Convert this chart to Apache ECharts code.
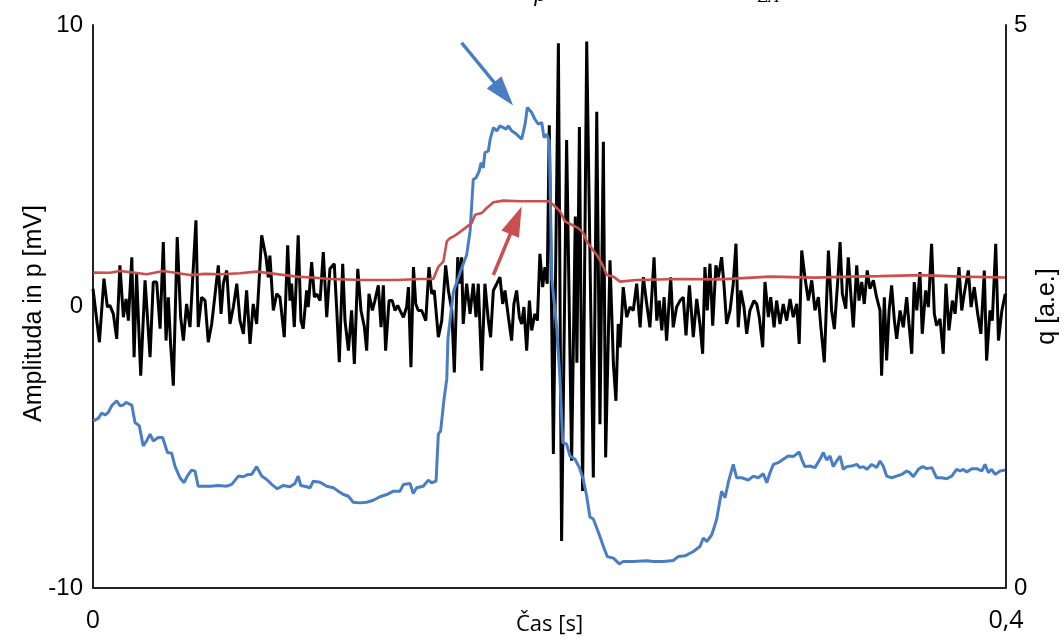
<!DOCTYPE html>
<html><head><meta charset="utf-8">
<script src="https://cdn.jsdelivr.net/npm/echarts@6/dist/echarts.min.js"></script>
<style>html,body{margin:0;padding:0;background:#fff}#c{width:1064px;height:641px}</style>
</head><body><div id="c"></div>
<script>
// time in ms, black signal p [mV] (left axis)
const blackT = [0,2.8,4.8,6.3,7.4,8.9,10.4,11.8,13.3,14.5,15.5,17.0,18.0,19.1,20.9,22.8,25.0,26.4,27.9,29.4,30.8,32.0,33.0,34.0,35.2,36.9,38.4,39.6,41.0,42.5,45.1,46.1,47.6,49.1,50.5,52.0,53.5,54.9,56.1,57.1,58.6,60.0,61.5,63.0,64.4,65.9,67.3,68.8,70.2,71.7,73.9,75.8,76.8,77.5,79.0,80.5,
81.9,83.8,85.3,86.3,87.0,88.2,89.9,91.1,92.1,93.6,94.3,95.8,97.0,98.0,99.5,100.9,102.4,103.8,105.7,106.8,107.9,109.4,110.4,111.9,113.3,114.5,116.0,117.4,118.9,119.9,120.9,122.4,123.5,125.0,126.2,127.2,128.2,129.7,131.1,132.3,133.5,134.5,136.0,137.4,138.2,139.3,140.4,141.4,142.5,144.0,145.8,147.2,148.4,149.5,151.3,152.8,154.5,155.7,157.2,158.3,159.8,160.8,
161.5,162.2,163.7,165.2,166.6,167.8,168.8,170.3,171.7,173.2,174.2,175.4,176.9,178.3,179.5,180.5,182.0,183.4,184.4,185.6,186.8,187.8,188.8,190.0,191.2,192.2,193.6,194.7,195.8,197.0,198.0,199.0,199.9,201.7,203.9,205.3,207.5,209.7,211.3,212.0,213.1,214.5,216.3,219.2,220.7,222.1,223.6,224.6,226.5,228.0,229.1,230.1,230.9,232.3,233.8,235.3,236.7,238.2,
239.7,241.1,242.6,244.0,245.8,247.0,248.1,249.2,250.2,251.3,253.1,254.2,255.7,257.2,258.6,259.8,261.3,263.0,264.5,265.9,267.1,268.1,269.1,270.3,271.5,272.9,274.0,275.4,276.4,277.6,279.1,280.5,281.7,282.7,283.8,285.2,286.4,287.8,289.6,290.8,291.9,293.4,294.4,295.9,296.9,298.4,299.5,301.0,302.4,303.9,305.4,306.8,308.3,309.4,310.5,311.9,313.4,314.9,316.3,
317.8,318.9,320.4,322.2,323.6,324.8,326.3,327.3,328.3,329.8,330.9,332.1,333.1,334.6,335.6,336.8,337.9,339.2,340.4,341.9,343.3,344.8,345.5,346.7,347.7,348.8,349.9,351.1,352.1,353.6,355.0,356.5,357.5,358.7,359.8,360.9,362.3,363.3,364.8,366.0,367.4,368.6,369.6,371.1,372.5,373.7,375.0,376.5,377.7,379.4,380.6,381.7,383.5,384.7,386.1,387.6,389.0,390.5,391.5,393.0,394.0,395.5,396.7,398.2,399.7];
const blackV = [0.63,-1.27,0.99,-0.02,0.04,-0.26,-1.15,1.46,-0.38,0.27,-0.5,1.75,-1.80,1.16,-2.46,0.93,-1.80,0.87,0.87,-0.79,2.29,-1.21,0.33,-1.33,-2.81,2.47,-0.38,-1.21,0.09,-0.73,3.06,-0.73,0.33,0.21,-1.27,-0.62,0.45,1.46,-0.26,0.81,1.28,-0.62,-0.02,0.81,-0.50,-0.97,0.57,-1.33,0.09,-0.62,2.53,1.75,1.04,1.81,-0.14,0.45,
0.33,-1.09,2.17,0.21,0.81,-0.73,2.53,-0.5,-0.79,0.57,-0.02,1.58,0.33,0.45,0.21,1.93,-0.38,1.34,1.52,-0.14,-1.98,1.52,-0.5,-1.57,-0.14,-2.04,1.34,-0.14,-0.73,-1.57,0.45,-0.14,0.21,0.75,-0.73,0.75,-1.57,0.21,0.21,-0.14,0.04,-0.14,-0.38,-0.02,0.69,-2.16,1.40,0.09,-0.14,-0.14,-0.5,1.40,0.45,0.57,-1.09,-0.5,1.46,0.57,-0.14,-2.34,1.75,0.81,
1.75,-0.62,0.81,-0.26,0.81,-0.38,0.81,-2.28,0.81,-0.5,-1.09,0.57,0.81,1.04,0.09,0.57,-0.38,-1.21,0.09,0.57,-0.38,-0.62,-0.02,-1.57,0.21,-0.85,-0.26,-0.5,1.87,0.69,1.40,0.81,6.44,-5.24,9.35,-8.33,5.91,-5.48,3.2,-2.0,6.38,-6.55,9.41,-6.07,6.92,-4.18,5.85,-5.36,1.64,-2.04,-3.35,-0.62,-1.45,0.69,-0.38,-0.02,-0.14,0.81,
-0.74,1.04,0.09,-0.74,1.75,-0.5,0.21,-0.85,0.33,-1.21,1.04,-0.74,-0.02,0.21,0.33,-1.03,0.75,-1.09,0.27,-0.62,-1.68,1.40,-0.14,1.52,-0.68,1.46,1.04,1.75,0.81,-0.62,-0.14,0.81,2.23,-0.74,0.57,-0.02,-0.97,-0.14,0.21,0.09,-0.38,-1.45,0.87,-0.38,0.33,-0.74,0.21,-0.62,0.09,-0.5,0.27,-0.38,0.09,-1.33,1.99,1.04,0.21,0.93,-0.14,
0.33,-0.74,-1.98,1.99,-0.14,-0.8,0.93,2.29,0.45,-0.08,1.75,0.33,-0.74,1.46,0.21,0.87,0.09,1.28,0.63,0.93,0.33,-0.14,-2.46,0.33,-1.92,-0.14,0.75,-0.5,-1.15,-0.14,-0.74,0.33,-0.62,-1.68,0.87,-0.14,1.22,-0.97,0.57,-0.02,2.23,-0.26,-0.68,-0.44,-1.68,0.81,-0.85,0.21,-0.26,1.40,-0.14,0.45,1.28,-0.02,0.69,-0.26,-0.97,1.28,-1.92,-0.14,-0.5,2.23,-1.21,-0.14,0.45];

// blue signal, q (right axis)
const blueT = [0.1,2.3,3.8,5.3,6.7,8.2,10.4,11.8,13.3,14.5,15.9,17.0,18.4,20.3,22.0,23.5,25.0,26.4,28.6,30.5,32.6,34.5,35.9,38.1,39.9,41.3,43.2,44.7,46.1,51.3,54.9,58.6,60.8,63.7,65.8,68.0,69.5,71.7,73.9,76.1,78.3,80.7,83.4,86.3,88.5,89.9,91.0,93.6,95.1,96.5,99.5,102.4,105.3,107.5,109.7,111.9,114.0,117.0,119.9,122.8,125.7,128.7,131.6,134.5,136.0,138.9,140.3,141.8,144.7,146.9,148.4,150.3,151.3,152.3,153.8,155.0,155.5,157.9,161.5,163.7,165.2,166.6,167.8,169.2,170.0,171.0,171.7,173.2,174.0,175.4,176.9,178.3,179.8,180.9,182.0,183.4,185.6,187.8,189.3,190.3,192.2,193.6,195.1,196.6,197.6,198.8,199.9,201.0,203.2,204.6,205.8,207.5,209.0,211.2,213.1,214.8,216.3,217.7,219.2,220.7,222.1,223.6,225.3,228.0,230.6,232.3,236.7,242.6,245.5,249.9,254.2,256.4,259.4,263.0,265.9,267.4,268.9,271.1,273.2,275.4,276.9,278.3,280.5,282.0,284.2,287.1,289.3,291.5,293.7,295.2,296.6,298.1,300.2,302.4,304.6,306.8,309.4,310.5,311.9,314.1,316.3,318.5,320.0,321.4,322.9,324.3,325.8,327.3,328.7,330.2,332.4,334.6,336.0,337.5,339.0,341.2,343.3,344.8,346.2,347.7,349.9,352.1,354.3,356.5,357.9,359.4,361.6,363.5,365.3,367.5,369.6,371.8,374.0,376.2,378.4,379.9,381.3,382.8,385.0,387.2,389.4,390.8,392.3,393.7,395.2,397.4,399.6];
const blueQ = [1.485,1.506,1.554,1.536,1.560,1.619,1.663,1.619,1.625,1.649,1.634,1.625,1.470,1.440,1.262,1.306,1.366,1.306,1.337,1.337,1.203,1.196,1.083,0.979,0.935,0.994,1.047,1.038,0.904,0.904,0.911,0.904,0.920,0.994,0.988,1.009,1.009,1.078,0.994,0.964,0.920,0.881,0.911,0.899,0.929,0.994,0.911,0.899,0.890,0.949,0.940,0.904,0.890,0.860,0.830,0.815,0.762,0.756,0.762,0.779,0.810,0.830,0.860,0.860,0.920,0.929,0.839,0.890,0.904,0.958,0.935,0.949,1.366,1.396,1.679,1.857,2.214,2.631,2.839,2.958,3.167,3.628,3.643,3.703,3.777,3.732,3.866,3.881,3.985,4.089,4.060,4.104,4.089,4.074,4.104,4.060,4.029,3.985,4.119,4.268,4.223,4.163,4.119,4.134,4.000,4.029,3.971,2.750,2.304,1.857,1.292,1.277,1.172,1.143,1.069,0.964,0.815,0.631,0.613,0.533,0.458,0.369,0.279,0.265,0.214,0.235,0.235,0.241,0.235,0.235,0.244,0.279,0.286,0.324,0.369,0.444,0.413,0.473,0.607,0.860,0.801,0.935,1.098,0.979,0.979,0.958,0.994,0.979,1.015,0.935,1.024,1.098,1.113,1.143,1.172,1.167,1.208,1.143,1.078,1.083,1.069,1.143,1.203,1.137,1.172,1.078,1.128,1.172,1.054,1.078,1.083,1.098,1.069,1.078,1.054,1.098,1.069,1.128,1.083,0.994,0.979,0.994,1.009,1.039,1.024,0.988,1.054,1.078,1.060,1.069,0.979,0.979,0.970,0.994,1.054,1.039,1.054,1.030,1.060,1.060,1.039,1.098,1.024,1.054,1.009,1.039,1.047];

// red signal, q (right axis)
const redT = [0.1,7.4,11.8,18.4,23.5,30.8,35.9,42.5,49.1,55.6,64.4,71.7,79.7,89.2,97.3,103.8,118.4,133.1,143.3,149.1,151.3,153.5,155.0,156.4,157.9,160.1,163.0,165.9,167.4,170.3,172.5,175.4,179.8,187.1,199.5,201.7,204.6,206.8,209.7,212.6,214.8,216.3,218.5,220.7,222.9,225.1,228.0,230.9,238.2,257.2,274.7,296.6,316.3,331.7,344.8,363.1,379.8,399.6];
const redQ = [2.801,2.80,2.815,2.80,2.786,2.815,2.80,2.779,2.79,2.786,2.795,2.810,2.79,2.765,2.755,2.744,2.735,2.735,2.744,2.744,2.854,2.899,3.078,3.107,3.122,3.152,3.196,3.241,3.315,3.330,3.375,3.426,3.440,3.435,3.435,3.404,3.346,3.256,3.226,3.196,3.152,3.078,3.018,2.958,2.884,2.779,2.765,2.721,2.735,2.744,2.741,2.765,2.756,2.765,2.77,2.779,2.765,2.758];

// annotation arrows (start / end in data units: ms, mV)
const blueArrow = [[161.5, 9.37], [179.9, 7.55]];
const redArrow = [[175.4, 1.12], [185.3, 3.06]];

const xTickLabels = ['0', '0,4'];

const zip = (a, b) => a.map((t, i) => [t, b[i]]);
const FONT = 'Liberation Sans, Arial, sans-serif';
const XFONT = 'Open Sans, Liberation Sans, sans-serif';
const chart = echarts.init(document.getElementById('c'), null, {renderer: 'canvas'});
chart.setOption({
  animation: false,
  backgroundColor: '#fff',
  grid: {left: 93, right: 58, top: 25, bottom: 53, containLabel: false, outerBoundsMode: 'none'},
  xAxis: {
    type: 'value', min: 0, max: 400, interval: 400,
    name: 'Čas [s]', nameLocation: 'middle', nameGap: 26, nameMoveOverlap: false,
    nameTextStyle: {fontSize: 22, color: '#000', fontFamily: XFONT},
    axisLine: {show: true, onZero: false, lineStyle: {color: '#222', width: 2}},
    axisTick: {show: false}, splitLine: {show: false},
    axisLabel: {margin: 20, fontSize: 25, color: '#000', fontFamily: XFONT,
      formatter: v => v === 0 ? xTickLabels[0] : xTickLabels[1]}
  },
  yAxis: [{
    type: 'value', min: -10, max: 10, interval: 10, position: 'left',
    name: 'Amplituda in p [mV]', nameLocation: 'middle', nameGap: 46, nameRotate: 90, nameMoveOverlap: false,
    nameTextStyle: {fontSize: 25, color: '#000', fontFamily: FONT, padding: [0, 14, 0, 0]},
    axisLine: {show: true, onZero: false, lineStyle: {color: '#222', width: 2}},
    axisTick: {show: false}, splitLine: {show: false},
    axisLabel: {margin: 10, fontSize: 24, color: '#000', fontFamily: FONT}
  }, {
    type: 'value', min: 0, max: 5, interval: 5, position: 'right',
    name: 'q [a.e.]', nameLocation: 'middle', nameGap: 29, nameRotate: 90, nameMoveOverlap: false,
    nameTextStyle: {fontSize: 25, color: '#000', fontFamily: FONT},
    axisLine: {show: true, onZero: false, lineStyle: {color: '#222', width: 2}},
    axisTick: {show: false}, splitLine: {show: false},
    axisLabel: {margin: 8, fontSize: 24, color: '#000', fontFamily: FONT}
  }],
  series: [{
    type: 'line', yAxisIndex: 0, data: zip(blackT, blackV), showSymbol: false,
    lineStyle: {color: '#000', width: 3}, z: 2,
    markLine: {
      silent: true, animation: false, symbol: ['none', 'triangle'], symbolSize: [19, 30],
      label: {show: false},
      data: [
        [{coord: blueArrow[0], lineStyle: {color: '#4a7ec4', width: 3.5, type: 'solid'}, itemStyle: {color: '#4a7ec4'}},
         {coord: blueArrow[1]}],
        [{coord: redArrow[0], lineStyle: {color: '#c9504e', width: 3.5, type: 'solid'}, itemStyle: {color: '#c9504e'}},
         {coord: redArrow[1]}]
      ]
    }
  }, {
    type: 'line', yAxisIndex: 1, data: zip(blueT, blueQ), showSymbol: false,
    lineStyle: {color: '#4a7ec4', width: 3}, z: 3
  }, {
    type: 'line', yAxisIndex: 1, data: zip(redT, redQ), showSymbol: false,
    lineStyle: {color: '#c9504e', width: 2.6}, z: 4
  }],
  graphic: [
    {type: 'text', left: 533, top: -16, style: {text: 'p', font: 'italic 22px DejaVu Serif', fill: '#000'}},
    {type: 'text', left: 758, top: -9, style: {text: 'ZA', font: 'italic 15px DejaVu Serif', fill: '#000'}}
  ]
});
</script></body></html>
